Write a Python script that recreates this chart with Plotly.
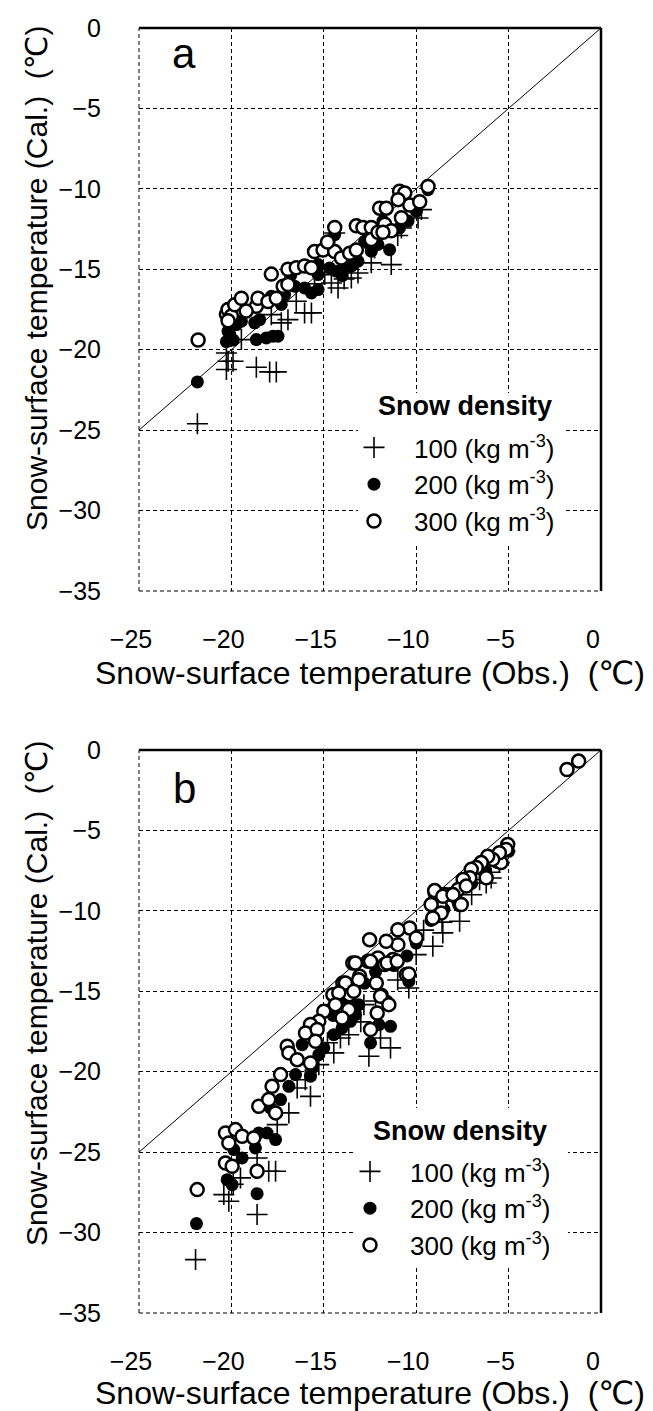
import plotly.graph_objects as go

W, H = 653, 1411

# ---------------- Panel a data (Obs., Cal.) ----------------
a100_x = [-21.84, -20.27, -20.18, -20.27, -19.91, -19.46, -18.65, -17.93, -17.57, -17.84, -17.3, -16.94,
          -16.49, -16.04, -15.67, -14.59, -14.23, -13.51, -13.15, -12.43, -11.35, -10.8, -9.9, -9.72,
          -14.41, -12.25, -14.95, -15.5, -13.9, -11.0]
a100_y = [-24.6, -20.2, -20.72, -21.23, -20.72, -19.37, -21.09, -21.38, -21.38, -17.82, -18.33, -18.13,
          -16.99, -17.71, -17.71, -15.85, -16.16, -15.54, -15.23, -14.6, -14.71, -12.43, -11.81, -11.29,
          -12.74, -13.67, -15.33, -15.9, -15.6, -12.9]

a200_x = [-21.84, -20.27, -20.09, -20.18, -19.73, -19.46, -18.65, -18.11, -17.75, -17.48, -18.74, -18.47,
          -17.84, -17.3, -17.12, -16.58, -16.04, -15.67, -15.31, -15.31, -14.68, -14.32, -13.87, -13.51,
          -13.15, -12.43, -12.07, -11.44, -14.41, -12.79, -10.98, -10.9, -10.44, -9.99, -9.36, -15.31,
          -19.9, -16.8, -14.0, -11.8]
a200_y = [-22.0, -19.5, -19.05, -18.85, -18.44, -18.23, -19.37, -19.27, -19.16, -19.16, -18.33, -18.13,
          -16.68, -17.19, -16.57, -16.05, -16.16, -16.47, -16.26, -15.33, -14.92, -15.12, -14.92, -14.81,
          -14.5, -13.88, -13.46, -13.78, -12.84, -13.26, -10.56, -12.43, -12.0, -11.39, -10.05, -14.71,
          -19.4, -15.4, -15.4, -12.0]

a300_x = [-21.8, -20.27, -20.18, -20.0, -19.82, -19.46, -20.18, -18.65, -18.56, -18.02, -17.57, -17.84,
          -17.2, -16.94, -16.94, -16.49, -16.04, -15.67, -15.5, -15.04, -14.41, -14.41, -14.05, -13.6,
          -13.24, -13.24, -12.88, -12.43, -12.43, -12.07, -11.98, -11.62, -11.7, -11.35, -11.8, -10.9,
          -10.62, -10.35, -10.8, -9.81, -9.36, -10.98, -19.2, -14.8]
a300_y = [-19.4, -17.8, -17.5, -17.9, -17.2, -16.8, -18.2, -17.3, -16.8, -17.0, -16.8, -15.3,
          -16.05, -15.95, -15.0, -14.9, -14.8, -14.9, -13.9, -13.8, -12.4, -13.9, -14.3, -14.0,
          -13.8, -12.3, -12.4, -12.4, -13.15, -12.7, -11.2, -11.2, -12.2, -12.6, -12.7, -10.15,
          -10.25, -11.0, -11.8, -10.8, -9.85, -10.67, -17.6, -13.3]

# ---------------- Panel b data (Obs., Cal.) ----------------
b100_x = [-21.94, -18.61, -20.14, -20.41, -19.51, -18.61, -17.98, -17.61, -17.52, -16.89, -16.44, -15.72,
          -15.27, -14.46, -14.1, -13.65, -12.83, -12.56, -11.93, -11.39, -10.4, -7.65, -8.56, -9.1,
          -10.0, -6.21, -5.94, -6.57, -5.2, -8.6, -13.0, -14.8, -16.0, -19.9, -11.0, -12.2, -9.6, -7.0,
          -6.0, -5.5]
b100_y = [-31.68, -28.88, -28.05, -27.64, -26.6, -25.36, -26.19, -26.19, -23.29, -22.56, -21.01, -21.53,
          -19.56, -18.83, -17.9, -17.7, -15.83, -19.04, -17.9, -18.52, -14.8, -10.65, -11.37, -12.2,
          -12.72, -8.27, -7.96, -8.06, -6.3, -10.7, -16.9, -18.2, -20.5, -27.0, -14.3, -15.6, -11.2, -9.0,
          -7.6, -7.0]

b200_x = [-21.89, -20.23, -19.96, -18.61, -19.87, -19.42, -18.7, -18.52, -18.07, -17.61, -17.89, -17.34,
          -16.89, -16.53, -15.72, -15.63, -15.27, -15.0, -14.46, -14.01, -13.56, -13.29, -12.47, -11.39,
          -12.02, -10.4, -14.01, -14.55, -13.11, -16.17, -5.0, -5.6, -6.3, -7.0, -7.8, -8.5, -9.2, -10.0,
          -10.5, -11.2, -12.2, -12.8, -13.6, -14.5, -20.0, -11.6]
b200_y = [-29.44, -26.71, -27.02, -27.58, -24.84, -25.36, -24.74, -23.81, -23.81, -24.22, -22.25, -21.73,
          -20.91, -20.18, -20.28, -19.77, -18.94, -18.52, -17.7, -17.28, -16.87, -16.45, -18.21, -17.18,
          -17.07, -14.38, -15.42, -16.04, -15.83, -18.32, -6.3, -7.0, -7.5, -8.3, -9.3, -9.9, -10.6, -12.0,
          -12.8, -13.4, -13.8, -14.5, -15.6, -16.5, -25.9, -15.6]

b300_x = [-1.84, -1.21, -5.05, -5.14, -5.41, -5.5, -5.86, -6.13, -6.48, -6.75, -7.02, -7.1,
          -7.46, -7.73, -7.29, -8.09, -8.45, -8.98, -9.16, -8.71, -7.64, -6.21,
          -9.0, -9.19, -8.56, -8.01, -7.56, -8.65, -9.1, -10.36, -10.99, -10.0, -10.99, -11.62,
          -12.52, -12.07, -12.61, -13.43, -13.06, -12.16, -11.89, -10.54, -14.51, -13.97, -13.61, -11.71,
          -11.26,
          -13.29, -12.47, -11.57, -11.03, -10.4, -13.83, -13.11, -14.19, -13.38, -14.37, -13.65, -14.01,
          -15.0, -15.27, -15.72, -15.99, -15.36, -11.93, -11.48, -12.11, -12.47, -15.45, -16.98, -16.89,
          -16.44, -15.72, -17.34, -17.8, -18.52, -17.98, -17.61, -20.32, -19.78, -19.42, -20.14, -18.79,
          -20.32, -19.96, -18.61, -21.85]
b300_y = [-1.21, -0.69, -5.87, -6.18, -7.0, -6.39, -6.8, -6.6, -7.0, -7.3, -7.42, -7.94,
          -8.05, -8.67, -8.46, -8.98, -8.98, -8.87, -9.6, -9.6, -9.6, -7.94,
          -8.74, -9.61, -9.09, -8.99, -9.61, -10.13, -10.44, -11.06, -11.17, -11.68, -12.1, -11.89,
          -11.79, -12.93, -13.13, -13.24, -14.07, -14.48, -15.25, -13.96, -15.21, -14.48, -15.21, -13.34,
          -13.03,
          -13.24, -13.14, -13.24, -13.14, -13.92, -14.48, -14.28, -15.1, -15.0, -15.83, -16.14, -16.66,
          -16.24, -16.87, -17.07, -17.59, -17.38, -15.31, -15.83, -16.35, -17.38, -18.11, -18.42, -18.83,
          -19.25, -19.46, -20.18, -20.91, -22.15, -21.73, -22.56, -23.81, -23.6, -24.01, -24.43, -24.12,
          -25.67, -25.88, -26.19, -27.33]

one_to_one = [-25, 0]
x_ticks = [-25, -20, -15, -10, -5, 0]
y_ticks = [0, -5, -10, -15, -20, -25, -30, -35]

legend_title = "Snow density"
legend_names = ["100 (kg m<sup>-3</sup>)", "200 (kg m<sup>-3</sup>)", "300 (kg m<sup>-3</sup>)"]

FONT = "Liberation Sans, Arial, DejaVu Sans, sans-serif"

fig = go.Figure()

def add_panel(xr, yr, leg, d100, d200, d300):
    fig.add_trace(go.Scatter(x=one_to_one, y=one_to_one, mode="lines", xaxis=xr, yaxis=yr,
                             line=dict(color="black", width=1), showlegend=False, hoverinfo="skip"))
    fig.add_trace(go.Scatter(x=d100[0], y=d100[1], mode="markers", xaxis=xr, yaxis=yr, legend=leg,
                             name=legend_names[0],
                             marker=dict(symbol="cross-thin", size=15, color="black",
                                         line=dict(color="black", width=1.6))))
    fig.add_trace(go.Scatter(x=d200[0], y=d200[1], mode="markers", xaxis=xr, yaxis=yr, legend=leg,
                             name=legend_names[1],
                             marker=dict(symbol="circle", size=13, color="black",
                                         line=dict(color="black", width=0))))
    fig.add_trace(go.Scatter(x=d300[0], y=d300[1], mode="markers", xaxis=xr, yaxis=yr, legend=leg,
                             name=legend_names[2],
                             marker=dict(symbol="circle", size=13, color="white",
                                         line=dict(color="black", width=2.5))))

add_panel("x", "y", "legend", (a100_x, a100_y), (a200_x, a200_y), (a300_x, a300_y))
add_panel("x2", "y2", "legend2", (b100_x, b100_y), (b200_x, b200_y), (b300_x, b300_y))

def py(p):
    return 1 - p / H

def px(p):
    return p / W

X0, X1 = 131, 593
YA0, YA1 = 20, 583
YB0, YB1 = 742, 1305
xdom = [px(X0), px(X1)]
ya_dom = [py(YA1), py(YA0)]
yb_dom = [py(YB1), py(YB0)]

def xaxis(anchor):
    return dict(domain=xdom, anchor=anchor, range=[-25, 0], tickvals=x_ticks, automargin=False,
                showgrid=True, gridcolor="black", gridwidth=1, griddash="4px,3px",
                zeroline=False, showline=False, ticks="outside", ticklen=26,
                tickcolor="rgba(0,0,0,0)", ticklabelshift=-8,
                tickfont=dict(family=FONT, size=25, color="black"))

def yaxis(anchor, dom):
    return dict(domain=dom, anchor=anchor, range=[-35, 0], tickvals=y_ticks, automargin=False,
                showgrid=True, gridcolor="black", gridwidth=1, griddash="4px,3px",
                zeroline=False, showline=False, ticks="outside", ticklen=32,
                tickcolor="rgba(0,0,0,0)",
                tickfont=dict(family=FONT, size=25, color="black"))

def legend(left, top):
    return dict(x=px(left), y=py(top), xanchor="left", yanchor="top",
                bgcolor="rgba(0,0,0,0)", borderwidth=0,
                font=dict(family=FONT, size=26, color="black"),
                itemwidth=70, tracegroupgap=0, itemsizing="trace")

annotations = []
for cy_title, cy_x, lab, lab_y, leg_x, leg_y in [(270, 665, "a", 45, 368, 398),
                                                  (985, 1385, "b", 780, 363, 1123)]:
    annotations.append(dict(text="Snow-surface temperature (Cal.)  (℃)", xref="paper", yref="paper",
                            x=px(28), y=py(cy_title), textangle=-90, showarrow=False,
                            xanchor="center", yanchor="middle",
                            font=dict(family=FONT, size=30, color="black")))
    annotations.append(dict(text="Snow-surface temperature (Obs.)  (℃)", xref="paper", yref="paper",
                            x=px(362), y=py(cy_x), showarrow=False, xanchor="center", yanchor="middle",
                            font=dict(family=FONT, size=32, color="black")))
    annotations.append(dict(text=lab, xref="paper", yref="paper", x=px(176), y=py(lab_y),
                            showarrow=False, xanchor="center", yanchor="middle",
                            font=dict(family=FONT, size=42, color="black")))
    annotations.append(dict(text=f"<b>{legend_title}</b>", xref="paper", yref="paper",
                            x=px(leg_x), y=py(leg_y), showarrow=False, xanchor="left", yanchor="middle",
                            font=dict(family=FONT, size=27, color="black")))

def dfx(p):
    return (p - X0) / (X1 - X0)

shapes = []
for xr, yr, y0p, y1p, box in [("x", "y", YA0, YA1, (350, 558, 385, 535)),
                               ("x2", "y2", YB0, YB1, (345, 560, 1100, 1258))]:
    def dfy(p, y0p=y0p, y1p=y1p):
        return (y1p - p) / (y1p - y0p)
    # dashed left and bottom frame (grid style)
    shapes.append(dict(type="line", xref=f"{xr} domain", yref=f"{yr} domain", x0=0, x1=0, y0=0, y1=1,
                       line=dict(color="black", width=1, dash="4px,3px")))
    shapes.append(dict(type="line", xref=f"{xr} domain", yref=f"{yr} domain", x0=0, x1=1, y0=0, y1=0,
                       line=dict(color="black", width=1, dash="4px,3px")))
    # white box behind legend hiding the grid
    shapes.append(dict(type="rect", xref=f"{xr} domain", yref=f"{yr} domain",
                       x0=dfx(box[0]), x1=dfx(box[1]), y0=dfy(box[3]), y1=dfy(box[2]),
                       fillcolor="white", line=dict(width=0)))
    # solid top and right frame
    shapes.append(dict(type="line", xref=f"{xr} domain", yref=f"{yr} domain", x0=0, x1=1, y0=1, y1=1,
                       line=dict(color="black", width=2.5)))
    shapes.append(dict(type="line", xref=f"{xr} domain", yref=f"{yr} domain", x0=1, x1=1, y0=0, y1=1,
                       line=dict(color="black", width=2.5)))

fig.update_layout(
    template="none",
    width=W, height=H, margin=dict(l=0, r=0, t=0, b=0, pad=0, autoexpand=False),
    paper_bgcolor="white", plot_bgcolor="white",
    xaxis=xaxis("y"), yaxis=yaxis("x", ya_dom),
    xaxis2=xaxis("y2"), yaxis2=yaxis("x2", yb_dom),
    legend=legend(326, 416), legend2=legend(322, 1140),
    annotations=annotations, shapes=shapes,
    font=dict(family=FONT, color="black"),
    showlegend=True,
)

fig.write_html("out.html")
